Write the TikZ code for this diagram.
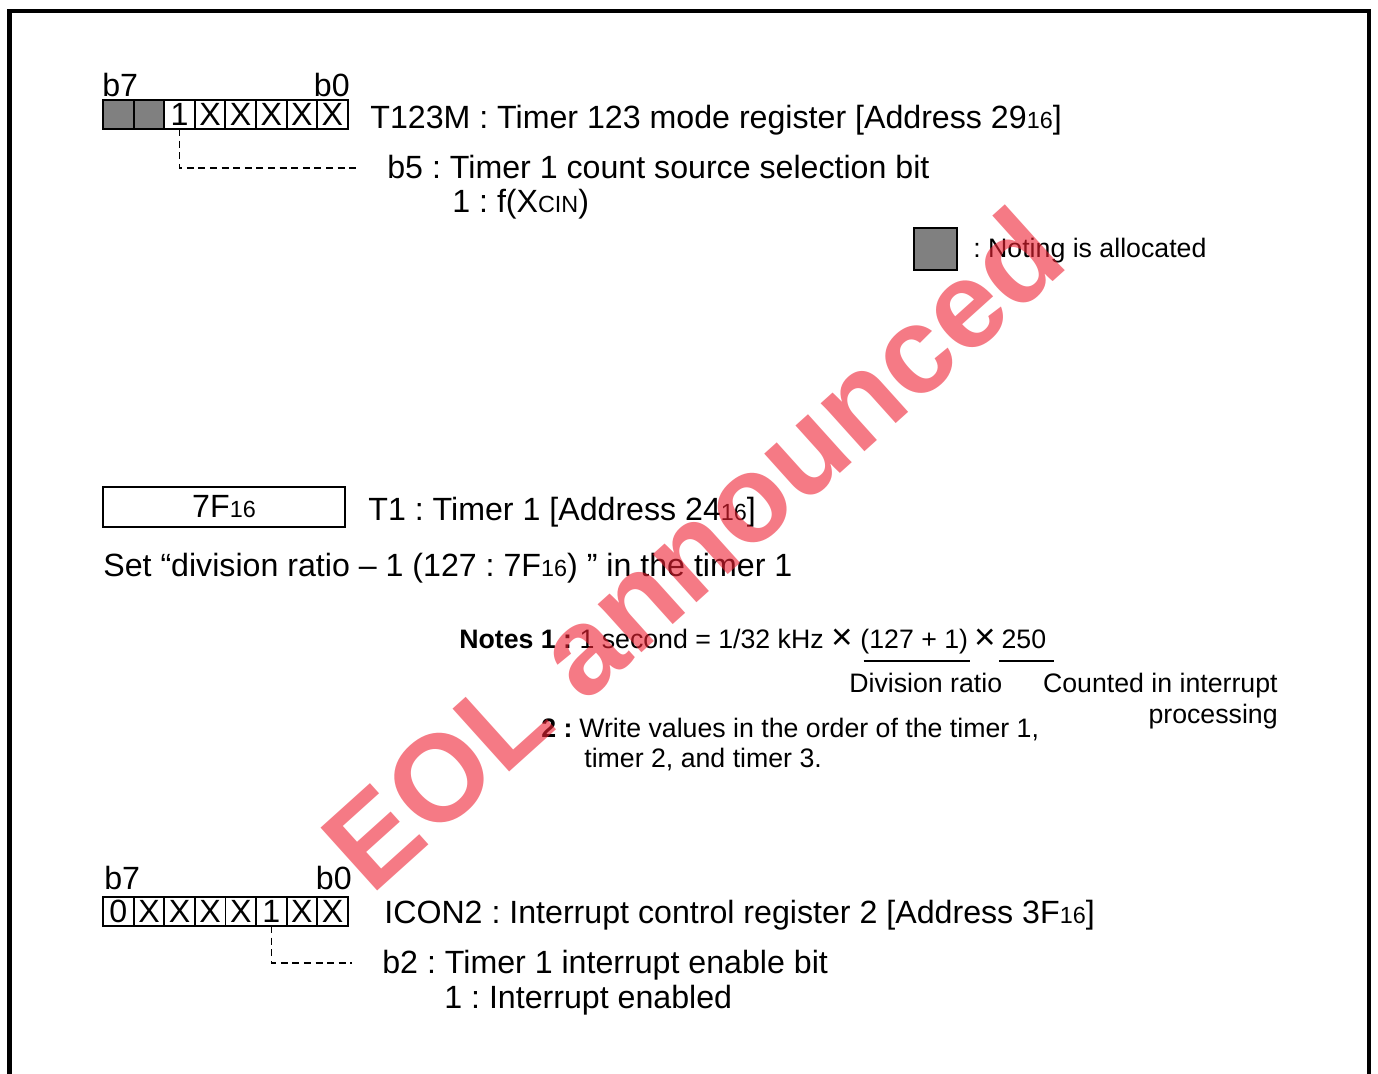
\documentclass[tikz,border=0pt]{standalone}
\usepackage{fontspec}
\setmainfont{Liberation Sans}
\usetikzlibrary{positioning}
\definecolor{cgray}{HTML}{808080}
\definecolor{cwater}{HTML}{EE2233}
\newcommand\bigfont{\fontsize{18.3}{21}\selectfont}
\newcommand\smallfont{\fontsize{15.2}{17.5}\selectfont}
\newcommand\hexsub[1]{{\fontsize{13.3}{13.3}\selectfont #1}}
\newcommand\bigtimes{\raisebox{-1pt}{\fontsize{21}{21}\selectfont ×}}
\frenchspacing
\tikzset{
  cell/.style={draw,line width=1.1pt,minimum width=0.612cm,minimum height=0.58cm,inner sep=0pt,outer sep=0pt,font=\bigfont},
  txt/.style={inner sep=0pt,font=\bigfont,anchor=base west},
  note/.style={inner sep=0pt,font=\smallfont,anchor=base west},
  lead/.style={dashed,dash pattern=on 4pt off 2.6pt,line width=0.7pt},
  wmark/.style={inner sep=0pt,font=\fontsize{70}{70}\selectfont\bfseries,text=cwater,text opacity=0.6}
}

\begin{document}
\begin{tikzpicture}[x=0.02cm,y=-0.02cm]
  \useasboundingbox (0,0) rectangle (1378,1073);
  % frame
  \draw[line width=2.8pt] (9.5,1080) -- (9.5,11) -- (1369,11) -- (1369,1080);

  % T123M
  \node[cell,fill=cgray] (a7) at (118.3,114.5) {};
  \node[cell,fill=cgray,right=0pt of a7] (a6) {};
  \node[cell,right=0pt of a6] (a5) {1};
  \node[cell,right=0pt of a5] (a4) {X};
  \node[cell,right=0pt of a4] (a3) {X};
  \node[cell,right=0pt of a3] (a2) {X};
  \node[cell,right=0pt of a2] (a1) {X};
  \node[cell,right=0pt of a1] (a0) {X};
  \node[txt] (ab7) at (102,96) {b7};
  \node[txt,anchor=base east] (ab0) at (350,96) {b0};
  \node[txt] (t123m) at (370,128) {T123M : Timer 123 mode register [Address 29\hexsub{16}]};
  \coordinate (ad) at (358,168);
  \draw[lead] (a5.south) |- (ad);
  \node[txt] (ab5) at (387,178) {b5 : Timer 1 count source selection bit};
  \node[txt] (ab5v) at (452,212) {1 : f(X\hexsub{CIN})};

  % legend
  \node[draw,line width=1.4pt,fill=cgray,minimum width=0.86cm,minimum height=0.84cm,inner sep=0pt] (key) at (935.5,249) {};
  \node[note] (keytxt) at (973,257) {: Noting is allocated};

  % T1
  \node[draw,line width=1.2pt,minimum width=4.84cm,minimum height=0.8cm,inner sep=0pt,font=\bigfont] (t1box) at (224,507) {7F\hexsub{16}};
  \node[txt] (t1) at (368,520) {T1 : Timer 1 [Address 24\hexsub{16}]};
  \node[txt] (setdiv) at (103,576) {Set “division ratio – 1 (127 : 7F\hexsub{16}) ” in the timer 1};

  % notes
  \node[note] (n1) at (459,648) {\textbf{Notes 1 :} 1 second = 1/32 kHz \bigtimes};
  \node[note,right=4pt of n1.base east,anchor=base west] (r127) {(127 + 1)};
  \node[note,right=3pt of r127.base east,anchor=base west] (x2) {\bigtimes};
  \node[note,right=3pt of x2.base east,anchor=base west] (n250) {250};
  \draw[line width=1.1pt] ([xshift=2pt,yshift=-7.4pt]r127.base west) -- ([xshift=1pt,yshift=-7.4pt]r127.base east);
  \draw[line width=1.1pt] ([xshift=-1pt,yshift=-7.4pt]n250.base west) -- ([xshift=4pt,yshift=-7.4pt]n250.base east);
  \node[note] (divr) at (849,692) {Division ratio};
  \node[note,align=right,anchor=north east] (cnt) at (1278,673) {Counted in interrupt\\processing};
  \node[note] (n2) at (541,737) {\textbf{2 :}};
  \node[note] (n2a) at (579,737) {Write values in the order of the timer 1,};
  \node[note] (n2b) at (584,767) {timer 2, and timer 3.};

  % ICON2
  \node[cell] (c7) at (118.4,911.5) {0};
  \node[cell,right=0pt of c7] (c6) {X};
  \node[cell,right=0pt of c6] (c5) {X};
  \node[cell,right=0pt of c5] (c4) {X};
  \node[cell,right=0pt of c4] (c3) {X};
  \node[cell,right=0pt of c3] (c2) {1};
  \node[cell,right=0pt of c2] (c1) {X};
  \node[cell,right=0pt of c1] (c0) {X};
  \node[txt] (cb7) at (104,889) {b7};
  \node[txt,anchor=base east] (cb0) at (352,889) {b0};
  \node[txt] (icon2) at (384,923) {ICON2 : Interrupt control register 2 [Address 3F\hexsub{16}]};
  \coordinate (cd) at (352,963);
  \draw[lead] (c2.south) |- (cd);
  \node[txt] (cb2) at (382,973) {b2 : Timer 1 interrupt enable bit};
  \node[txt] (cb2v) at (444,1008) {1 : Interrupt enabled};

  % watermark
  \node[wmark,rotate=42] (eol) at (692,548) {EOL announced};
\end{tikzpicture}
\end{document}
